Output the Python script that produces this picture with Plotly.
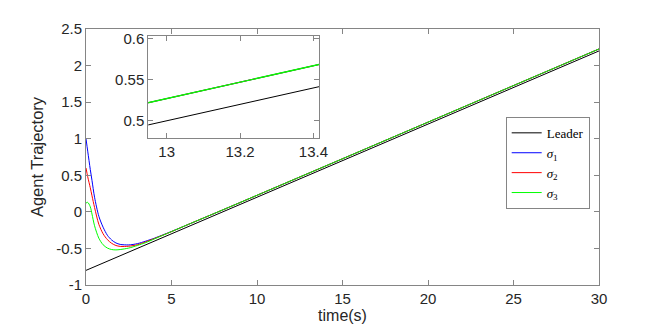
import plotly.graph_objects as go

# leader trajectory (straight line)
leader_t = [0, 30]
leader_y = [-0.8, 2.2]

# follower trajectories
follower_t = [0, 0.1, 0.25, 0.35, 0.5, 0.75, 1.0, 1.25, 1.5, 1.75, 2.0, 2.5, 3.0, 3.5, 4.0, 5.0, 6.0, 8.0, 30]
sigma1_y = [1.00, 0.83, 0.58, 0.43, 0.20, -0.06, -0.21, -0.32, -0.385, -0.425, -0.445, -0.452, -0.435, -0.40, -0.36, -0.268, -0.17, 0.027, 2.227]
sigma2_y = [0.60, 0.48, 0.33, 0.22, 0.06, -0.17, -0.30, -0.38, -0.43, -0.46, -0.472, -0.47, -0.45, -0.41, -0.365, -0.27, -0.17, 0.027, 2.227]
sigma3_y = [0.12, 0.13, 0.07, -0.03, -0.19, -0.36, -0.45, -0.495, -0.515, -0.52, -0.515, -0.495, -0.46, -0.42, -0.37, -0.27, -0.17, 0.027, 2.227]

x_ticks = [0, 5, 10, 15, 20, 25, 30]
y_ticks = [-1, -0.5, 0, 0.5, 1, 1.5, 2, 2.5]
inset_x_ticks = [13, 13.2, 13.4]
inset_y_ticks = [0.5, 0.55, 0.6]

AXIS_COLOR = "#858585"
TEXT_COLOR = "#262626"
FONT = "Liberation Sans"

series = [
    ("Leader", leader_t, leader_y, "black"),
    ("<i>σ</i><sub>1</sub>", follower_t, sigma1_y, "#0000ff"),
    ("<i>σ</i><sub>2</sub>", follower_t, sigma2_y, "#ff0000"),
    ("<i>σ</i><sub>3</sub>", follower_t, sigma3_y, "#00ff00"),
]

fig = go.Figure()

for name, t, y, color in series:
    fig.add_trace(
        go.Scatter(
            x=t,
            y=y,
            mode="lines",
            name=name,
            line=dict(color=color, width=1, shape="spline", smoothing=0.8),
            xaxis="x",
            yaxis="y",
        )
    )

# zoomed inset (linear, spline gets distorted far off-screen)
for i, (name, t, y, color) in enumerate(series):
    fig.add_trace(
        go.Scatter(
            x=t,
            y=y,
            mode="lines",
            name=name,
            showlegend=False,
            line=dict(color=color, width=1.4 if i == 3 else 1),
            xaxis="x2",
            yaxis="y2",
        )
    )

axis_common = dict(
    showline=True,
    linecolor=AXIS_COLOR,
    linewidth=1,
    mirror="ticks",
    ticks="inside",
    ticklen=5,
    tickcolor=AXIS_COLOR,
    showgrid=False,
    zeroline=False,
    tickfont=dict(family=FONT, size=15, color=TEXT_COLOR),
)

# page body adds 8px offset, margins compensate for it
fig.update_layout(
    width=660,
    height=332,
    margin=dict(l=78, r=69, t=17, b=55),
    paper_bgcolor="white",
    plot_bgcolor="white",
    font=dict(family=FONT, color=TEXT_COLOR),
    xaxis=dict(
        axis_common,
        domain=[0, 1],
        range=[0, 30],
        tickvals=x_ticks,
        title=dict(text="time(s)", font=dict(family=FONT, size=16, color=TEXT_COLOR), standoff=2),
    ),
    yaxis=dict(
        axis_common,
        domain=[0, 1],
        range=[-1, 2.5],
        tickvals=y_ticks,
        ticktext=["-1", "-0.5", "0", "0.5", "1", "1.5", "2", "2.5"],
        title=dict(text="Agent Trajectory", font=dict(family=FONT, size=16.5, color=TEXT_COLOR), standoff=8),
    ),
    xaxis2=dict(
        axis_common,
        domain=[0.1214, 0.4548],
        range=[12.95, 13.416],
        tickvals=inset_x_ticks,
        anchor="y2",
    ),
    yaxis2=dict(
        axis_common,
        domain=[0.574, 0.972],
        range=[0.479, 0.603],
        tickvals=inset_y_ticks,
        ticktext=["0.5", "0.55", "0.6"],
        anchor="x2",
    ),
    legend=dict(
        x=0.9,
        y=0.477,
        xanchor="center",
        yanchor="middle",
        bgcolor="white",
        bordercolor=AXIS_COLOR,
        borderwidth=1,
        font=dict(family="Liberation Serif", size=13, color="black"),
        itemwidth=30,
        tracegroupgap=0,
    ),
    showlegend=True,
)

fig.write_html("out.html")
